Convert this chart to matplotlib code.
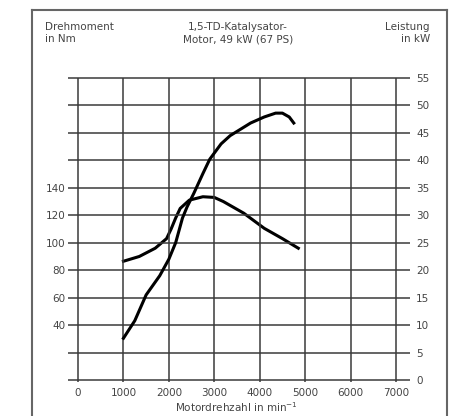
import matplotlib.pyplot as plt
from matplotlib.lines import Line2D

# torque curve (Nm, left scale)
rpm_torque = [1000, 1350, 1700, 1950, 2050, 2150, 2250, 2450, 2750, 3000, 3200, 3650, 4100, 4500, 4850]
torque = [86.5, 90, 96, 103, 110, 118, 125, 131, 133.5, 133, 130, 121.5, 110.5, 103, 96]

# power curve (kW, right scale)
rpm_power = [1000, 1250, 1500, 1800, 2000, 2150, 2300, 2400, 2550, 2750, 2900, 3150, 3350, 3800, 4100, 4350, 4500, 4650, 4750]
power = [7.6, 10.8, 15.5, 19, 22, 25, 29.5, 31.5, 34, 37.6, 40.2, 43, 44.5, 46.8, 47.9, 48.6, 48.6, 47.9, 46.8]

rpm_ticks = [0, 1000, 2000, 3000, 4000, 5000, 6000, 7000]
kw_ticks = [0, 5, 10, 15, 20, 25, 30, 35, 40, 45, 50, 55]
nm_ticks = [40, 60, 80, 100, 120, 140]

plt.rcParams['font.family'] = 'DejaVu Sans'
plt.rcParams['font.size'] = 7.5
txt = '#444444'
grid = '#3a3a3a'

fig = plt.figure(figsize=(4.64, 4.16), dpi=100)
ax = fig.add_axes([68 / 464, 25 / 416, (409.6 - 68) / 464, (391 - 67) / 416])
ax2 = ax.twinx()

ax.set_xlim(-220, 7300)
ax2.set_ylim(-2, 57)
ax.set_ylim(-8, 228)

# grid
ax2.hlines(kw_ticks, -220, 7300, color=grid, lw=1.1, zorder=1)
ax2.vlines(rpm_ticks, -0.4, 55, color=grid, lw=1.1, zorder=1)

ax.plot(rpm_torque, torque, color='black', lw=2.2, solid_joinstyle='round', zorder=3)
ax2.plot(rpm_power, power, color='black', lw=2.2, solid_joinstyle='round', zorder=3)

for a in (ax, ax2):
    for s in a.spines.values():
        s.set_visible(False)

ax.set_xticks(rpm_ticks)
ax.set_xticklabels([str(r) for r in rpm_ticks], color=txt)
ax.tick_params(axis='x', length=0, pad=-2.5)
ax.set_yticks(nm_ticks)
ax.set_yticklabels([str(n) for n in nm_ticks], color=txt)
ax.tick_params(axis='y', length=0, pad=2)
ax2.set_yticks(kw_ticks)
ax2.set_yticklabels([str(k) for k in kw_ticks], color=txt)
ax2.tick_params(axis='y', length=0, pad=4.6)

fig.text(236 / 464, 1 - 407 / 416, 'Motordrehzahl in min$^{-1}$', ha='center', va='center', color=txt)

fig.text(45 / 464, 1 - 22 / 416, 'Drehmoment\nin Nm', ha='left', va='top', color=txt, linespacing=1.3)
fig.text(238 / 464, 1 - 22 / 416, '1,5-TD-Katalysator-\nMotor, 49 kW (67 PS)', ha='center', va='top',
         color=txt, linespacing=1.3, multialignment='center')
fig.text(430 / 464, 1 - 22 / 416, 'Leistung\nin kW', ha='right', va='top', color=txt,
         linespacing=1.3, multialignment='right')

# outer frame
fc = '#666666'
fig.add_artist(Line2D([32 / 464, 32 / 464], [0, 1 - 10 / 416], color=fc, lw=1.5))
fig.add_artist(Line2D([447 / 464, 447 / 464], [0, 1 - 10 / 416], color=fc, lw=1.5))
fig.add_artist(Line2D([32 / 464, 447 / 464], [1 - 10 / 416, 1 - 10 / 416], color=fc, lw=1.5))

fig.savefig('out.png', dpi=100)
